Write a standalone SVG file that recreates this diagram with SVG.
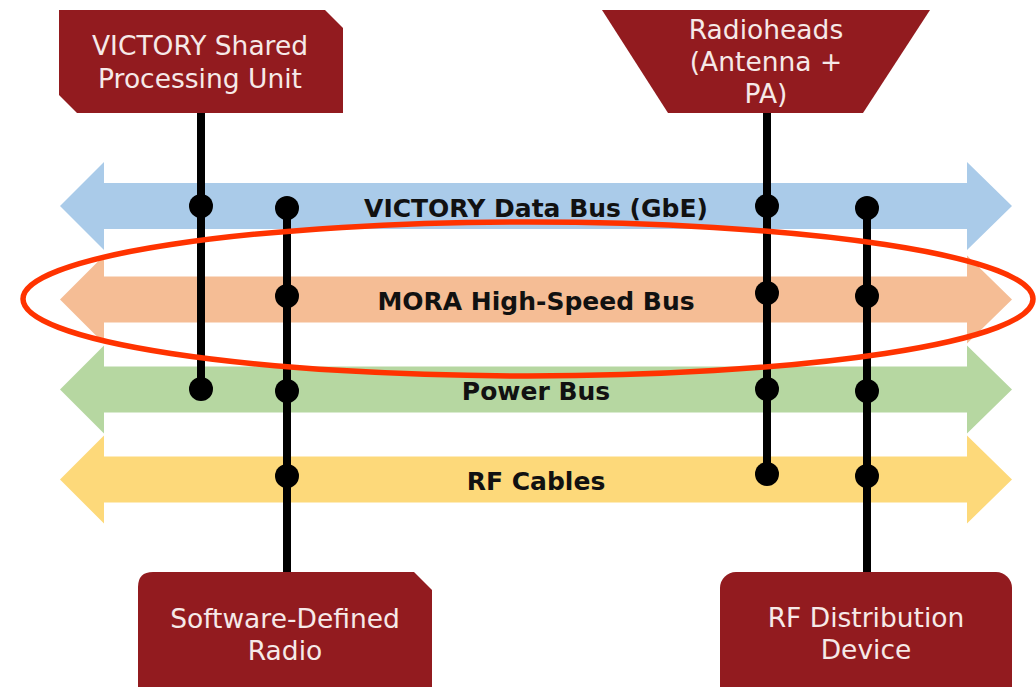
<svg xmlns="http://www.w3.org/2000/svg" width="1036" height="687" viewBox="0 0 1036 687">
  <style>
    .box { fill: #921b1f; }
    .boxtxt { font-family: "DejaVu Sans", "Open Sans", sans-serif; font-size: 26.5px; fill: #f6e9e8; text-anchor: middle; }
    .bustxt { font-family: "DejaVu Sans", "Open Sans", sans-serif; font-size: 25px; font-weight: bold; fill: #111; text-anchor: middle; }
    .wire { stroke: #000; stroke-width: 8; fill: none; }
    .dot { fill: #000; }
  </style>
  <defs>
    <!-- double-headed bus arrow centred on y=0 -->
    <path id="busArrow" d="M60,0 L104,-44 L104,-23 L967,-23 L967,-44 L1012,0 L967,44 L967,23 L104,23 L104,44 Z"/>
  </defs>
  <rect width="1036" height="687" fill="#fff"/>

  <!-- buses -->
  <g id="bus-data">
    <use href="#busArrow" transform="translate(0,206)" fill="#aacbe9"/>
    <text class="bustxt" x="536" y="217">VICTORY Data Bus (GbE)</text>
  </g>
  <g id="bus-mora">
    <use href="#busArrow" transform="translate(0,299.5)" fill="#f5bd95"/>
    <text class="bustxt" x="536" y="310">MORA High-Speed Bus</text>
  </g>
  <g id="bus-power">
    <use href="#busArrow" transform="translate(0,389.5)" fill="#b6d7a1"/>
    <text class="bustxt" x="536" y="400">Power Bus</text>
  </g>
  <g id="bus-rf">
    <use href="#busArrow" transform="translate(0,479.5)" fill="#fdd97a"/>
    <text class="bustxt" x="536" y="490">RF Cables</text>
  </g>

  <!-- taps from devices onto buses -->
  <g id="connectors">
    <line class="wire" x1="201" y1="112" x2="201" y2="389"/>
    <circle class="dot" cx="201" cy="206" r="12"/>
    <circle class="dot" cx="201" cy="389" r="12"/>

    <line class="wire" x1="287" y1="208" x2="287" y2="573"/>
    <circle class="dot" cx="287" cy="208" r="12"/>
    <circle class="dot" cx="287" cy="296" r="12"/>
    <circle class="dot" cx="287" cy="391" r="12"/>
    <circle class="dot" cx="287" cy="476" r="12"/>

    <line class="wire" x1="767" y1="112" x2="767" y2="474"/>
    <circle class="dot" cx="767" cy="206" r="12"/>
    <circle class="dot" cx="767" cy="293" r="12"/>
    <circle class="dot" cx="767" cy="389" r="12"/>
    <circle class="dot" cx="767" cy="474" r="12"/>

    <line class="wire" x1="867" y1="208" x2="867" y2="573"/>
    <circle class="dot" cx="867" cy="208" r="12"/>
    <circle class="dot" cx="867" cy="296" r="12"/>
    <circle class="dot" cx="867" cy="391" r="12"/>
    <circle class="dot" cx="867" cy="476" r="12"/>
  </g>

  <!-- devices -->
  <g id="node-spu">
    <path class="box" d="M59,10 L325,10 L343,28 L343,113 L77,113 L59,95 Z"/>
    <text class="boxtxt" x="200" y="55">VICTORY Shared</text>
    <text class="boxtxt" x="200" y="88">Processing Unit</text>
  </g>
  <g id="node-radioheads">
    <path class="box" d="M602,10 L930,10 L863,113 L668,113 Z"/>
    <text class="boxtxt" x="766" y="39">Radioheads</text>
    <text class="boxtxt" x="766" y="71">(Antenna +</text>
    <text class="boxtxt" x="766" y="103">PA)</text>
  </g>
  <g id="node-sdr">
    <path class="box" d="M153,572 L414,572 L432,590 L432,700 L138,700 L138,587 Q138,572 153,572 Z"/>
    <text class="boxtxt" x="285" y="628">Software-Defined</text>
    <text class="boxtxt" x="285" y="660">Radio</text>
  </g>
  <g id="node-rfdd">
    <rect class="box" x="720" y="572" width="292" height="130" rx="16"/>
    <text class="boxtxt" x="866" y="627">RF Distribution</text>
    <text class="boxtxt" x="866" y="659">Device</text>
  </g>

  <!-- highlight around the MORA bus -->
  <ellipse cx="528" cy="299" rx="505" ry="77" fill="none" stroke="#ff3300" stroke-width="5.5"/>
</svg>
